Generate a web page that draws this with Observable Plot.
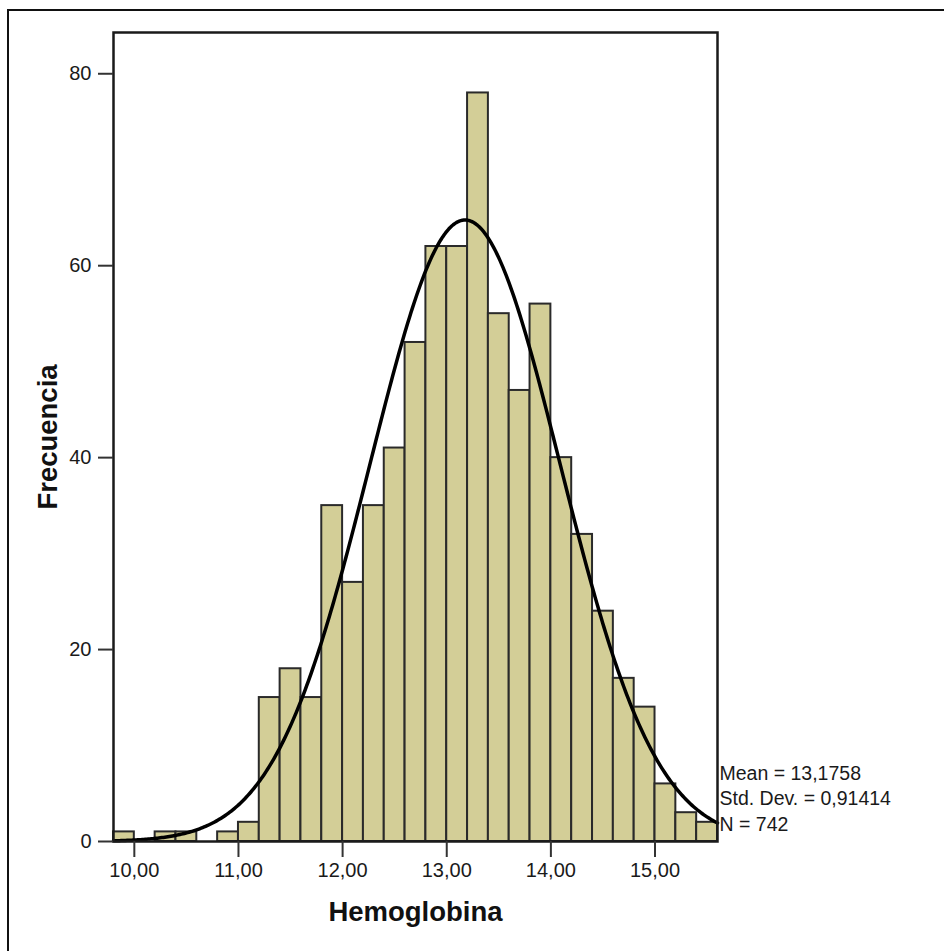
<!DOCTYPE html>
<html>
<head>
<meta charset="utf-8">
<script src="https://cdn.jsdelivr.net/npm/d3@7"></script>
<script src="https://cdn.jsdelivr.net/npm/@observablehq/plot@0.6"></script>
<style>
  html, body { margin: 0; padding: 0; background: #fff; }
  #wrap { position: relative; width: 944px; height: 951px; overflow: hidden; }
  #edge { position: absolute; left: 7px; top: 9px; right: -10px; bottom: -10px;
          border-left: 2px solid #111; border-top: 2px solid #111; pointer-events: none; }
  #chart { position: absolute; left: 0; top: 0; }
</style>
</head>
<body>
<div id="wrap"><div id="chart"></div><div id="edge"></div></div>
<script>
// Histogram of hemoglobin values, bins of 0.2 g/dL
const binLower = [9.8, 10.0, 10.2, 10.4, 10.6, 10.8, 11.0, 11.2, 11.4, 11.6,
                  11.8, 12.0, 12.2, 12.4, 12.6, 12.8, 13.0, 13.2, 13.4, 13.6,
                  13.8, 14.0, 14.2, 14.4, 14.6, 14.8, 15.0, 15.2, 15.4];
const counts   = [1, 0, 1, 1, 0, 1, 2, 15, 18, 15,
                  35, 27, 35, 41, 52, 62, 62, 78, 55, 47,
                  56, 40, 32, 24, 17, 14, 6, 3, 2];
const binWidth = 0.2;
const xTicks = [10, 11, 12, 13, 14, 15];
const yTicks = [0, 20, 40, 60, 80];

// Summary statistics shown beside the plot
const mean = 13.1758;
const stdDev = 0.91414;
const n = 742;

const comma = (v, digits) => v.toFixed(digits).replace(".", ",");

const bars = binLower
  .map((lo, i) => ({x1: lo, x2: +(lo + binWidth).toFixed(2), count: counts[i]}))
  .filter(d => d.count > 0);

// Normal curve scaled to the histogram: N * binWidth * pdf(x)
const xMin = binLower[0];
const xMax = +(binLower[binLower.length - 1] + binWidth).toFixed(2);
const normal = d3.range(0, 401).map(i => {
  const x = xMin + (xMax - xMin) * i / 400;
  const z = (x - mean) / stdDev;
  return {x, y: n * binWidth * Math.exp(-0.5 * z * z) / (stdDev * Math.sqrt(2 * Math.PI))};
});

const statsText = [
  `Mean = ${comma(mean, 4)}`,
  `Std. Dev. = ${comma(stdDev, 5)}`,
  `N = ${n}`
].join("\n");

const font = "'Liberation Sans', Arial, sans-serif";

const chart = Plot.plot({
  width: 944,
  height: 951,
  marginLeft: 113,
  marginRight: 227,
  marginTop: 32,
  marginBottom: 110,
  style: {fontFamily: font, fontSize: "20px", color: "#1a1a1a", background: "transparent", overflow: "visible"},
  x: {domain: [xMin, xMax]},
  y: {domain: [0, 84.3]},
  marks: [
    Plot.rectY(bars, {x1: "x1", x2: "x2", y: "count", fill: "#d3ce97", stroke: "#2a2a2a", strokeWidth: 2}),
    Plot.line(normal, {x: "x", y: "y", stroke: "#000", strokeWidth: 3.5, curve: "linear"}),
    Plot.frame({stroke: "#1a1a1a", strokeWidth: 2.5}),
    Plot.axisY({ticks: yTicks, tickSize: 15, tickPadding: 7, tickFormat: d => String(d),
                stroke: "#333", strokeWidth: 2, fontSize: 20, label: null}),
    Plot.axisX({ticks: xTicks, tickSize: 16, tickPadding: 5, tickFormat: d => comma(d, 2),
                stroke: "#333", strokeWidth: 2, fontSize: 20, label: null}),
    Plot.text([statsText], {frameAnchor: "bottom-right", textAnchor: "start", lineAnchor: "bottom",
               dx: 2, dy: -11, lineHeight: 1.3, fontSize: 19.5, fill: "#1a1a1a"}),
    Plot.text(["Hemoglobina"], {frameAnchor: "bottom", dy: 71, lineAnchor: "middle",
               fontSize: 27.5, fontWeight: "bold", fill: "#111"}),
    Plot.text(["Frecuencia"], {frameAnchor: "left", dx: -65, rotate: -90, textAnchor: "middle",
               lineAnchor: "middle", fontSize: 27.5, fontWeight: "bold", fill: "#111"})
  ]
});

document.getElementById("chart").appendChild(chart);
</script>
</body>
</html>
